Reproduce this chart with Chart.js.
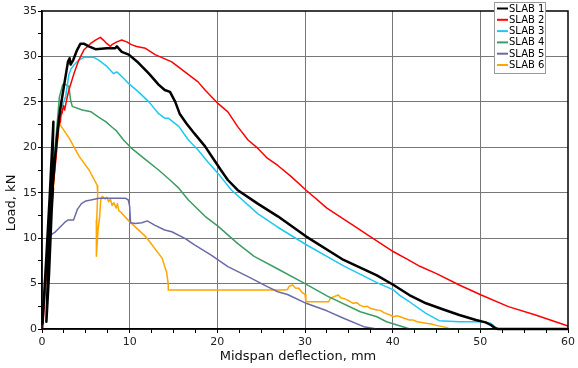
<!DOCTYPE html>
<html>
<head>
<meta charset="utf-8">
<script src="https://cdn.jsdelivr.net/npm/chart.js@4.4.1/dist/chart.umd.min.js"></script>
<style>
html,body{margin:0;padding:0;background:#fff;}
canvas{display:block;}
</style>
</head>
<body>
<canvas id="c" width="578" height="368"></canvas>
<script>
// ---- data (deflection mm, load kN) ----
const labels = ["SLAB 1","SLAB 2","SLAB 3","SLAB 4","SLAB 5","SLAB 6"];
const xTickLabels = [0,10,20,30,40,50,60];
const yTickLabels = [0,5,10,15,20,25,30,35];

const slab1 = [[0.05,0.5],[0.5,8],[0.9,15],[1.3,22.8],[1.15,17],[0.75,8],[0.5,0.8],[0.8,6],[1.1,13],[1.25,15.5],[1.1,14.3],[1.5,19],[1.8,22],[2.06,24.1],[2.5,26.7],[2.96,29.4],[3.15,29.8],[3.26,29.1],[3.56,29.6],[4.0,30.7],[4.39,31.4],[4.77,31.4],[5.34,31.1],[6.1,30.8],[7.4,30.9],[8.35,30.9],[8.54,31.1],[9.1,30.5],[9.9,30.2],[11.0,29.3],[12.2,28.1],[13.3,26.9],[14.0,26.3],[14.6,26.1],[15.2,25.0],[15.7,23.7],[16.5,22.6],[17.4,21.5],[18.6,20.1],[19.5,18.8],[20.4,17.5],[21.2,16.4],[22.3,15.3],[24.6,13.8],[26.9,12.4],[30.1,10.2],[34.4,7.6],[38.2,5.9],[40.1,4.84],[41.9,3.74],[43.8,2.83],[45.7,2.17],[47.6,1.54],[49.5,0.99],[50.6,0.73],[51.2,0.44],[51.7,0.08],[52,0],[60,0]];

const slab2 = [[0,0],[0.1,0.25],[0.4,5],[0.77,10.5],[1.2,15],[1.53,18.2],[1.9,22.3],[2.1,22.8],[2.2,23.9],[2.28,23.7],[2.45,24.6],[2.58,24.1],[2.85,25.4],[3.07,26.3],[3.64,28.1],[4.2,29.6],[4.77,30.7],[5.52,31.4],[6.1,31.8],[6.65,32.1],[7.0,31.8],[7.4,31.4],[7.8,31.1],[7.97,31.3],[8.54,31.6],[9.1,31.8],[9.67,31.6],[10.2,31.3],[10.8,31.1],[11.8,30.9],[12.9,30.2],[14.8,29.4],[16.3,28.3],[17.8,27.2],[18.6,26.3],[20.1,24.8],[21.2,23.9],[22.3,22.3],[23.5,20.8],[24.6,19.9],[25.7,18.8],[26.9,18.0],[28.4,16.8],[30.1,15.3],[32.5,13.3],[35.5,11.4],[37.4,10.2],[40.1,8.5],[41.8,7.6],[43.1,6.9],[45.0,6.1],[47.6,4.84],[50.1,3.74],[53.2,2.46],[56.3,1.54],[60,0.33]];

const slab3 = [[0,0],[0.5,7],[1.0,14],[1.5,19.5],[1.9,22.5],[2.17,23.7],[2.32,24.6],[2.7,25.6],[3.07,28.0],[3.3,28.6],[3.64,29.06],[4.2,29.6],[4.77,29.9],[5.9,29.9],[6.47,29.6],[7.4,28.9],[8.17,28.1],[8.54,28.3],[9.3,27.6],[9.9,27.0],[11.0,26.1],[12.2,25.0],[13.3,23.7],[14.0,23.2],[14.4,23.2],[15.6,22.3],[16.7,20.8],[17.8,19.7],[18.9,18.4],[20.1,17.1],[21.6,15.3],[24.6,12.7],[26.9,11.2],[30.1,9.3],[34.4,6.95],[38.2,5.1],[40.1,4.3],[40.8,3.7],[41.9,3.0],[43.8,1.73],[45.3,0.92],[47.6,0.8],[50.2,0.8],[51.2,0.63],[51.9,0.08],[52.2,0]];

const slab4 = [[0,0],[0.5,7],[1.0,14],[1.5,20],[1.98,25.5],[2.36,26.9],[2.7,26.9],[3.07,26.7],[3.26,25.2],[3.45,24.5],[4.6,24.1],[5.6,23.9],[6.5,23.3],[7.3,22.8],[8.0,22.2],[8.5,21.8],[9.3,20.8],[10.2,19.9],[11.6,18.8],[13.3,17.5],[14.6,16.4],[15.6,15.5],[16.7,14.2],[18.6,12.4],[20.1,11.3],[22.3,9.43],[24.2,8.0],[26.9,6.6],[30.0,5.0],[32.5,3.65],[36.3,1.9],[38.2,1.35],[39.3,0.8],[41.7,0.08],[42,0],[51,0]];

const slab5 = [[0,0],[0.3,4],[0.6,8],[0.85,10.2],[1.22,10.5],[1.53,10.7],[2.36,11.5],[2.66,11.8],[3.0,12.0],[3.6,12.0],[4.05,13.2],[4.5,13.8],[5.0,14.1],[5.56,14.2],[6.5,14.4],[7.26,14.4],[9.5,14.4],[9.85,14.2],[10.0,13.5],[10.1,11.7],[10.65,11.6],[11.4,11.7],[12.0,11.9],[12.9,11.4],[14.0,10.9],[14.8,10.7],[16.3,9.98],[17.4,9.25],[19.3,8.14],[21.2,6.86],[23.5,5.76],[25.7,4.66],[26.9,4.1],[28.0,3.8],[30.2,2.8],[32.5,2.0],[34.4,1.18],[36.7,0.26],[38.2,0],[40,0]];

const slab6 = [[0,0],[0.5,6],[1.0,12],[1.5,18],[1.98,22.6],[3.1,21.0],[4.24,19.0],[5.37,17.5],[6.3,15.8],[6.35,14.9],[6.25,12.0],[6.2,8.0],[6.4,11],[6.58,12.4],[6.7,14.2],[6.88,14.6],[7.2,14.3],[7.4,14.5],[7.6,14.0],[7.8,14.3],[8.0,13.6],[8.2,13.9],[8.46,13.3],[8.6,13.8],[8.77,13.0],[8.95,12.9],[9.9,11.9],[11.8,10.2],[13.7,7.8],[14.05,6.7],[14.2,6.3],[14.4,5.0],[14.4,4.3],[27.6,4.3],[28.0,4.35],[28.2,4.7],[28.6,4.84],[28.9,4.5],[29.3,4.48],[29.7,4.0],[30.0,3.8],[30.1,3.0],[32.7,3.0],[32.9,3.37],[33.3,3.56],[33.8,3.74],[34.1,3.4],[34.4,3.37],[34.8,3.2],[35.1,3.05],[35.5,2.83],[35.9,2.9],[36.3,2.6],[36.7,2.46],[37.1,2.5],[37.5,2.25],[38.2,2.1],[38.6,2.05],[39.0,1.8],[39.7,1.54],[40.1,1.35],[40.5,1.45],[41.0,1.3],[41.9,0.99],[42.3,1.0],[42.8,0.8],[43.8,0.63],[44.4,0.55],[45.0,0.4],[45.7,0.26],[46.3,0.1],[46.5,0]];

const series = [slab1, slab2, slab3, slab4, slab5, slab6];
const colors = ["#000000","#ff0000","#1ec8f0","#3c9c64","#6a6aa8","#ffa500"];
const widths = [2.5,1.5,1.5,1.5,1.5,1.5];

const FONT = "'DejaVu Sans', Verdana, sans-serif";

const overlay = {
  id: 'overlay',
  afterDatasetsDraw(chart) {
    const ctx = chart.ctx, a = chart.chartArea;
    ctx.save();
    ctx.strokeStyle = '#000';
    ctx.lineWidth = 1.5;
    ctx.strokeRect(a.left, a.top, a.right - a.left, a.bottom - a.top);
    ctx.restore();
  },
  afterDraw(chart) {
    const ctx = chart.ctx;
    ctx.save();
    // axis titles
    ctx.fillStyle = '#111';
    ctx.font = "13px " + FONT;
    ctx.textAlign = 'center';
    ctx.textBaseline = 'middle';
    ctx.fillText('Midspan deflection, mm', 298, 357);
    ctx.translate(12, 203);
    ctx.rotate(-Math.PI / 2);
    ctx.fillText('Load, kN', 0, 0);
    ctx.restore();

    // legend
    ctx.save();
    const bx = 494, by = 2, bw = 51, bh = 71;
    ctx.fillStyle = '#fff';
    ctx.fillRect(bx, by, bw, bh);
    ctx.strokeStyle = '#999';
    ctx.lineWidth = 1;
    ctx.strokeRect(bx + 0.5, by + 0.5, bw, bh);
    ctx.font = "10px " + FONT;
    ctx.textAlign = 'left';
    ctx.textBaseline = 'middle';
    chart.data.datasets.forEach((ds, i) => {
      const yy = 8.5 + i * 11.3;
      ctx.strokeStyle = ds.borderColor;
      ctx.lineWidth = 2;
      ctx.beginPath();
      ctx.moveTo(497, yy);
      ctx.lineTo(508, yy);
      ctx.stroke();
      ctx.fillStyle = '#000';
      ctx.fillText(ds.label, 509, yy + 0.5);
    });
    ctx.restore();
  }
};

new Chart(document.getElementById('c'), {
  type: 'line',
  data: {
    datasets: series.map((s, i) => ({
      label: labels[i],
      data: s.map(p => ({x: p[0], y: p[1]})),
      borderColor: colors[i],
      backgroundColor: colors[i],
      borderWidth: widths[i],
      pointRadius: 0,
      tension: 0,
      fill: false,
      borderJoinStyle: 'round',
      clip: 3
    }))
  },
  options: {
    responsive: false,
    animation: false,
    layout: {padding: {top: 11, right: 5, left: 0, bottom: 0}},
    plugins: {legend: {display: false}, tooltip: {enabled: false}},
    scales: {
      x: {
        type: 'linear', min: 0, max: 60,
        afterFit: s => { s.height = 39; },
        ticks: {
          stepSize: 2.5, autoSkip: false, maxRotation: 0, padding: 3,
          color: '#222', font: {family: FONT, size: 11},
          callback: v => (xTickLabels.includes(v) ? String(v) : '')
        },
        grid: {
          color: c => (c.tick && c.tick.value % 10 === 0 && c.tick.value > 0 && c.tick.value < 60) ? '#777' : 'rgba(0,0,0,0)',
          tickColor: '#000', tickLength: 4, lineWidth: 1
        },
        border: {display: true, color: '#000', width: 1.5}
      },
      y: {
        type: 'linear', min: 0, max: 35,
        afterFit: s => { s.width = 42; },
        ticks: {
          stepSize: 2.5, autoSkip: false, padding: 1,
          color: '#222', font: {family: FONT, size: 11},
          callback: v => (yTickLabels.includes(v) ? String(v) : '')
        },
        grid: {
          color: c => (c.tick && c.tick.value % 5 === 0 && c.tick.value > 0 && c.tick.value < 35) ? '#777' : 'rgba(0,0,0,0)',
          tickColor: '#000', tickLength: 4, lineWidth: 1
        },
        border: {display: true, color: '#000', width: 1.5}
      }
    }
  },
  plugins: [overlay]
});
</script>
</body>
</html>
